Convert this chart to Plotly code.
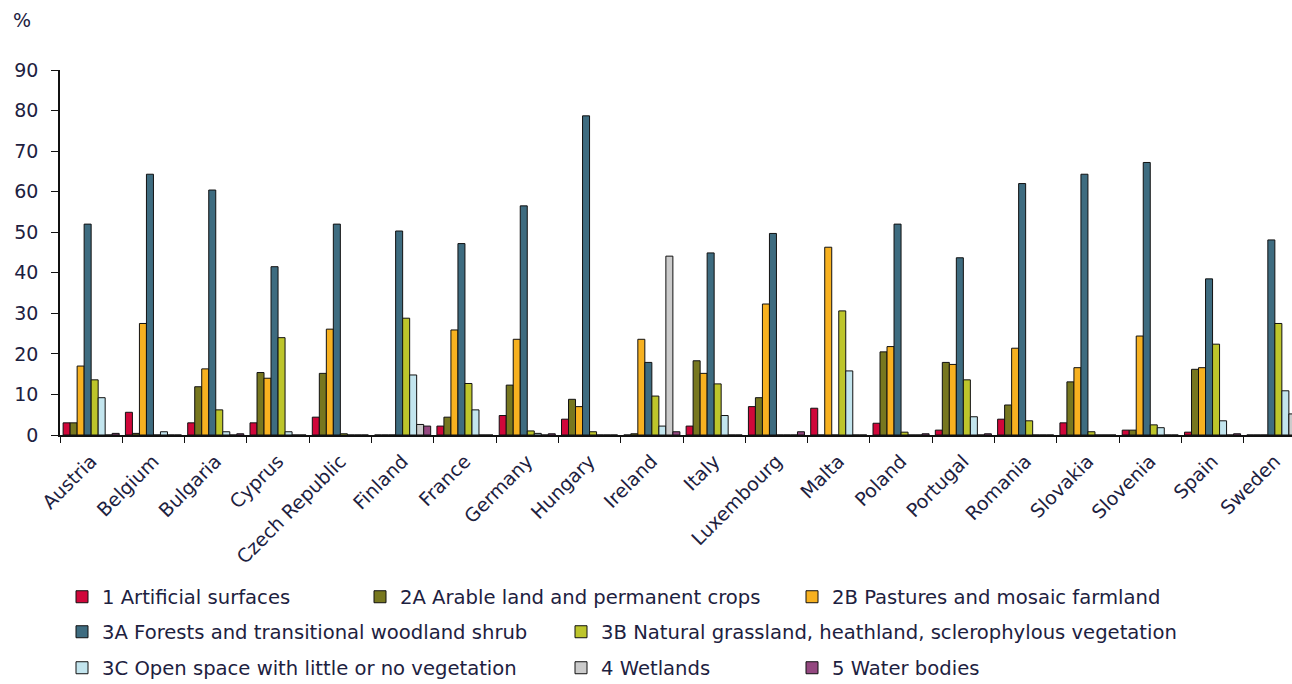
import plotly.graph_objects as go

countries = ["Austria", "Belgium", "Bulgaria", "Cyprus", "Czech Republic", "Finland",
             "France", "Germany", "Hungary", "Ireland", "Italy", "Luxembourg", "Malta",
             "Poland", "Portugal", "Romania", "Slovakia", "Slovenia", "Spain", "Sweden"]

artificial = [3.0, 5.6, 3.0, 3.0, 4.4, 0, 2.2, 4.8, 3.9, 0, 2.2, 7.0, 6.6, 2.9, 1.2, 3.9, 3.0, 1.2, 0.7, 0]
arable = [3.0, 0.4, 11.9, 15.4, 15.2, 0, 4.4, 12.3, 8.8, 0.3, 18.3, 9.2, 0, 20.5, 17.9, 7.4, 13.1, 1.2, 16.2, 0]
pastures = [17.0, 27.5, 16.3, 14.0, 26.1, 0, 25.9, 23.6, 7.0, 23.6, 15.2, 32.3, 46.3, 21.8, 17.4, 21.4, 16.6, 24.4, 16.6, 0]
forests = [52.0, 64.3, 60.4, 41.5, 52.0, 50.3, 47.2, 56.5, 78.7, 17.9, 44.9, 49.7, 0, 52.0, 43.7, 62.0, 64.3, 67.2, 38.5, 48.1]
grassland = [13.6, 0, 6.2, 24.0, 0.3, 28.8, 12.7, 1.0, 0.8, 9.6, 12.6, 0, 30.6, 0.7, 13.6, 3.5, 0.8, 2.5, 22.4, 27.5]
open_space = [9.2, 0.8, 0.8, 0.8, 0, 14.8, 6.2, 0.4, 0, 2.2, 4.8, 0, 15.8, 0, 4.5, 0, 0, 1.8, 3.5, 10.9]
wetlands = [0, 0, 0, 0, 0, 2.6, 0, 0, 0, 44.1, 0, 0, 0, 0, 0, 0, 0, 0, 0, 5.2]
water = [0.4, 0, 0.3, 0, 0, 2.2, 0, 0.3, 0, 0.8, 0, 0.8, 0, 0.3, 0.3, 0, 0, 0, 0.3, 0]

series_names = [
    "1 Artificial surfaces",
    "2A Arable land and permanent crops",
    "2B Pastures and mosaic farmland",
    "3A Forests and transitional woodland shrub",
    "3B Natural grassland, heathland, sclerophylous vegetation",
    "3C Open space with little or no vegetation",
    "4 Wetlands",
    "5 Water bodies",
]
series_values = [artificial, arable, pastures, forests, grassland, open_space, wetlands, water]
series_colors = ["#D0073A", "#77771F", "#F7B120", "#3E6C80", "#BDC52B", "#C3E5EE", "#CBCBCB", "#944880"]

y_ticks = [0, 10, 20, 30, 40, 50, 60, 70, 80, 90]

W, H = 1292, 684
L, R, T, B = 60, 0, 70, 249
PW, PH = W - L - R, H - T - B


def px_x(px):
    return (px - L) / PW


def px_y(py):
    return (H - B - py) / PH


FONT = "DejaVu Sans"
TXT = "#1d2140"
FS = 19
FS_LEG = 19.6

# legend slots: (start of entry text, vertical centre) in pixels
legend_slots = [(103, 597), (401, 597), (833, 597),
                (103, 632), (602, 632),
                (103, 668), (602, 668), (833, 668)]

fig = go.Figure()
layout_legends = {}
for i, (name, vals, col) in enumerate(zip(series_names, series_values, series_colors)):
    key = "legend" if i == 0 else f"legend{i + 1}"
    fig.add_trace(go.Bar(
        x=countries, y=vals, name=name,
        marker=dict(color=col, line=dict(color="#111111", width=1)),
        legend=key,
    ))
    sx, sy = legend_slots[i]
    layout_legends[key] = dict(
        x=px_x(sx - 41), y=px_y(sy), xanchor="left", yanchor="middle",
        orientation="h", bgcolor="rgba(0,0,0,0)", borderwidth=0,
        font=dict(family=FONT, size=FS_LEG, color=TXT),
    )

fig.update_layout(
    width=W, height=H,
    margin=dict(l=L, r=R, t=T, b=B, pad=0, autoexpand=False),
    paper_bgcolor="white", plot_bgcolor="white",
    barmode="group", bargap=0.1, bargroupgap=0,
    font=dict(family=FONT, size=FS, color=TXT),
    showlegend=True,
    **layout_legends,
)

fig.update_xaxes(
    type="category", range=[-0.5, -0.5 + PW / 62.3],
    showline=True, linecolor="#111111", linewidth=1.5,
    ticks="outside", ticklen=6, tickcolor="#111111", tickson="boundaries",
    tickangle=-45, ticklabelstandoff=6, automargin=False,
    tickfont=dict(family=FONT, size=FS, color=TXT),
    showgrid=False, zeroline=False,
)
fig.update_yaxes(
    range=[0, 90], tickvals=y_ticks,
    showline=True, linecolor="#111111", linewidth=1.5,
    ticks="outside", ticklen=7, tickcolor="#111111",
    ticklabelstandoff=9, automargin=False,
    tickfont=dict(family=FONT, size=FS, color=TXT),
    showgrid=False, zeroline=False,
)

fig.add_annotation(
    text="%", xref="paper", yref="paper", x=px_x(11), y=px_y(20),
    xanchor="left", yanchor="middle", showarrow=False,
    font=dict(family=FONT, size=FS, color=TXT),
)

fig.write_html("out.html")
